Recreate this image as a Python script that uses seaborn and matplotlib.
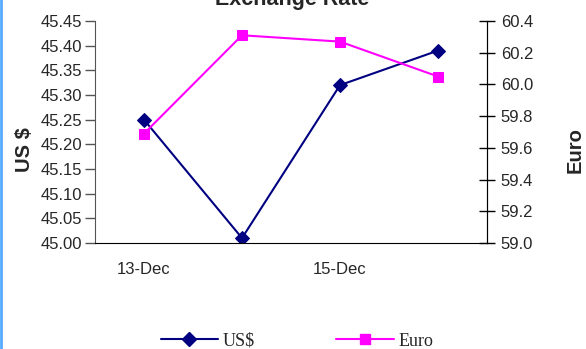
import matplotlib
matplotlib.use("Agg")
import matplotlib.pyplot as plt
import matplotlib.lines as mlines
import seaborn as sns
import pandas as pd

# Data
dates = ['13-Dec', '14-Dec', '15-Dec', '16-Dec']
usd = [45.25, 45.01, 45.32, 45.39]
euro = [59.69, 60.31, 60.27, 60.05]

df = pd.DataFrame({'pos': range(len(dates)), 'date': dates, 'US$': usd, 'Euro': euro})

sns.set_style('white')
plt.rcParams['font.family'] = ['Liberation Sans', 'DejaVu Sans']

fig = plt.figure(figsize=(5.86, 3.49), dpi=100)
ax = fig.add_axes([95 / 586, 1 - 243 / 349, 392 / 586, 222 / 349])

navy = '#000080'
pink = '#ff00ff'

sns.lineplot(data=df, x='pos', y='US$', ax=ax, color=navy, marker='D',
             markersize=7, markeredgecolor=navy, linewidth=1.5, legend=False)
ax.set_ylim(45.0, 45.45)
ax.set_yticks([45.00 + 0.05 * i for i in range(10)])
ax.set_yticklabels([f'{45.00 + 0.05 * i:.2f}' for i in range(10)])
ax.set_xlim(-0.5, 3.5)

# category labels every other day, ticks at category boundaries
ax.set_xticks([0, 2])
ax.set_xticklabels([dates[0], dates[2]])
ax.set_xticks([-0.5, 1.5, 3.5], minor=True)
ax.tick_params(axis='x', which='major', length=0, pad=14, labelsize=12)
ax.tick_params(axis='x', which='minor', length=7, width=1, color='black', direction='out')
ax.tick_params(axis='y', length=7, width=1, color='#555555', direction='out', labelsize=12, pad=2)
ax.set_xlabel('')
ax.set_ylabel('')

ax2 = ax.twinx()
sns.lineplot(data=df, x='pos', y='Euro', ax=ax2, color=pink, marker='s',
             markersize=7, markeredgecolor=pink, linewidth=1.5, legend=False)
ax2.set_ylim(59.0, 60.4)
ax2.set_yticks([59.0 + 0.2 * i for i in range(8)])
ax2.set_yticklabels([f'{59.0 + 0.2 * i:.1f}' for i in range(8)])
ax2.tick_params(axis='y', length=12, width=1, color='black', direction='inout', labelsize=12, pad=4)
ax2.set_ylabel('')

for a in (ax, ax2):
    a.spines['top'].set_visible(False)
    a.grid(False)
ax.spines['left'].set_color('#555555')
ax.spines['bottom'].set_color('black')
ax2.spines['right'].set_color('black')
ax2.spines['left'].set_visible(False)
ax2.spines['bottom'].set_visible(False)

fig.text(292 / 586, 1 - 5 / 349, 'Exchange Rate', ha='center', va='baseline',
         fontsize=15.5, fontweight='bold')
fig.text(25 / 586, 1 - 150 / 349, 'US $', rotation=90, ha='center', va='center',
         fontsize=14.5, fontweight='bold')
fig.text(575 / 586, 1 - 150 / 349, 'Euro', rotation=90, ha='center', va='center',
         fontsize=14.5, fontweight='bold')

h1 = mlines.Line2D([], [], color=navy, marker='D', markersize=7, linewidth=1.5, label='US$')
h2 = mlines.Line2D([], [], color=pink, marker='s', markersize=7, linewidth=1.5, label='Euro')
fig.legend(handles=[h1, h2], loc='center', bbox_to_anchor=(297 / 586, 1 - 341 / 349),
           ncol=2, frameon=False, handlelength=3.2, handletextpad=0.25, columnspacing=4.5,
           prop={'family': 'Liberation Serif', 'size': 13})

# light blue frame edge on the left
fig.add_artist(mlines.Line2D([1 / 586, 1 / 586], [0, 1], color='#55aaff', linewidth=2,
                             transform=fig.transFigure))

fig.savefig('out.png', dpi=100)
